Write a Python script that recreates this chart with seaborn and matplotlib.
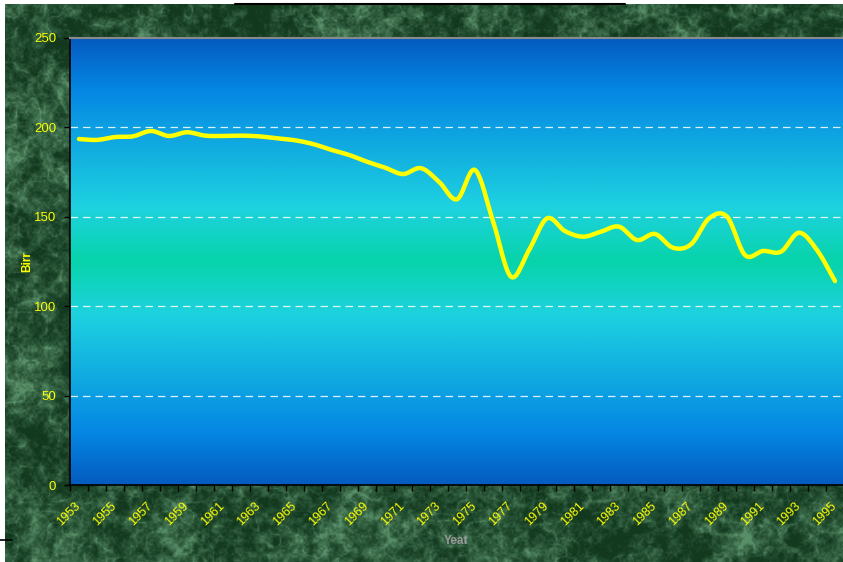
import numpy as np
import pandas as pd
import matplotlib
matplotlib.use("Agg")
import matplotlib.pyplot as plt
import matplotlib.transforms as mtransforms
from matplotlib.colors import LinearSegmentedColormap
import seaborn as sns

# Annual values in Birr, 1953-1995
years = list(range(1953, 1996))
birr = [193.5, 193.0, 194.6, 195.0, 198.0, 195.2, 197.3, 195.4, 195.2, 195.4,
        195.0, 193.9, 192.8, 190.7, 187.5, 184.6, 180.8, 177.5, 173.9, 177.2,
        169.6, 159.8, 176.2, 147.6, 116.5, 131.4, 149.1, 142.0, 138.9, 141.7,
        144.5, 137.0, 140.4, 132.7, 134.6, 149.1, 150.1, 128.6, 130.9, 130.5,
        141.1, 131.4, 114.1]
year_labels = [str(y) if (y - 1953) % 2 == 0 else "" for y in years]
y_ticks = [0, 50, 100, 150, 200, 250]

sns.set_style("ticks")
plt.rcParams["font.family"] = ["Liberation Sans", "DejaVu Sans"]

W, H = 843, 562
fig = plt.figure(figsize=(W / 100, H / 100), dpi=100)

yy, xx = np.mgrid[0:H, 0:W].astype(float)


def lattice_noise(cell, shift):
    """Smooth value noise from a hashed lattice, bilinearly blended."""
    fx, fy = xx / cell, yy / cell
    x0, y0 = np.floor(fx), np.floor(fy)
    tx, ty = fx - x0, fy - y0
    tx = tx * tx * (3 - 2 * tx)
    ty = ty * ty * (3 - 2 * ty)

    def h(i, j):
        v = np.sin(i * 12.9898 + j * 78.233 + shift) * 43758.5453
        return v - np.floor(v)

    a, b = h(x0, y0), h(x0 + 1, y0)
    c, d = h(x0, y0 + 1), h(x0 + 1, y0 + 1)
    return (a * (1 - tx) + b * tx) * (1 - ty) + (c * (1 - tx) + d * tx) * ty


# Green marble backdrop: fine mottled grain with faint pale veins
mottle = (0.30 * lattice_noise(36, 1.3) + 0.28 * lattice_noise(12, 7.1)
          + 0.24 * lattice_noise(5, 3.7) + 0.18 * lattice_noise(2, 5.9))
ridge = 1 - np.abs(2 * (0.5 * lattice_noise(30, 9.4)
                        + 0.5 * lattice_noise(11, 2.2)) - 1)
veins = ridge ** 10
shade = np.clip((mottle - 0.3) / 0.4 * 0.75 + 0.3 * veins, 0, 1)
dark = np.array([18, 56, 30]) / 255
light = np.array([88, 142, 104]) / 255
img = dark + (light - dark) * (shade[..., None] ** 1.45)
img[:4, :, :] = 1.0
img[:, :5, :] = 1.0

bg_ax = fig.add_axes([0, 0, 1, 1], zorder=-10)
bg_ax.imshow(img, extent=[0, W, H, 0], aspect="auto", interpolation="bilinear")
bg_ax.plot([235, 625], [3.5, 3.5], color="black", lw=1.5)
bg_ax.plot([0, 12], [540, 540], color="black", lw=1.2)
bg_ax.set_xlim(0, W)
bg_ax.set_ylim(H, 0)
bg_ax.axis("off")

# Plot area
ax = fig.add_axes([70 / W, 77 / H, 774 / W, 447 / H])
ax.set_xlim(-0.5, len(years) - 0.5)
ax.set_ylim(0, 250)

grad_cmap = LinearSegmentedColormap.from_list(
    "plotbg",
    [(0.00, "#045bbf"), (0.12, "#0588e4"), (0.26, "#12b0e0"),
     (0.38, "#1ed2e0"), (0.50, "#07d4aa"),
     (0.62, "#1ed2e0"), (0.74, "#12b0e0"), (0.88, "#0588e4"), (1.00, "#045bbf")])
grad = np.linspace(0, 1, 256)[:, None]
ax.imshow(grad, extent=[-0.5, len(years) - 0.5, 0, 250], aspect="auto",
          cmap=grad_cmap, zorder=0, interpolation="bilinear")

for gy in y_ticks[1:-1]:
    ax.axhline(gy, color="white", lw=0.9, ls=(0, (6, 4)), alpha=0.85, zorder=1)


def smooth_path(x, y, steps=20):
    """Catmull-Rom curve passing through every data point."""
    x = np.asarray(x, float)
    y = np.asarray(y, float)
    px = np.concatenate([[2 * x[0] - x[1]], x, [2 * x[-1] - x[-2]]])
    py = np.concatenate([[2 * y[0] - y[1]], y, [2 * y[-1] - y[-2]]])
    out_x, out_y = [], []
    t = np.linspace(0, 1, steps, endpoint=False)
    for i in range(1, len(px) - 2):
        for arr, out in ((px, out_x), (py, out_y)):
            p0, p1, p2, p3 = arr[i - 1], arr[i], arr[i + 1], arr[i + 2]
            out.extend(0.5 * ((2 * p1) + (-p0 + p2) * t
                              + (2 * p0 - 5 * p1 + 4 * p2 - p3) * t ** 2
                              + (-p0 + 3 * p1 - 3 * p2 + p3) * t ** 3))
    out_x.append(x[-1])
    out_y.append(y[-1])
    return np.array(out_x), np.array(out_y)


pos = np.arange(len(years))
sx, sy = smooth_path(pos, birr)
curve = pd.DataFrame({"pos": sx, "Birr": sy})
sns.lineplot(data=curve, x="pos", y="Birr", sort=False, color="#ffff00",
             lw=3.2, ax=ax, zorder=3, solid_capstyle="round")

# Axes styling
for side in ("left", "bottom"):
    ax.spines[side].set_color("black")
    ax.spines[side].set_linewidth(1.2)
ax.spines["top"].set_color("#8a8a8a")
ax.spines["top"].set_linewidth(1.5)
ax.spines["right"].set_visible(False)

ax.set_yticks(y_ticks)
ax.set_yticklabels([str(v) for v in y_ticks])
ax.tick_params(axis="y", colors="black", labelcolor="#ffff00", labelsize=9.5,
               length=4, width=1, pad=6, direction="out")

ax.set_xticks(np.arange(-0.5, len(years) + 0.5, 1.0))
ax.set_xticklabels([])
ax.tick_params(axis="x", which="major", colors="black", length=4, width=1)
ax.set_xticks(pos, minor=True)
ax.set_xticklabels(year_labels, minor=True, rotation=45, ha="right",
                   va="top", rotation_mode="anchor")
ax.tick_params(axis="x", which="minor", length=0, pad=11,
               labelcolor="#ffff00", labelsize=9)
shift = mtransforms.ScaledTranslation(-5 / 100, 0, fig.dpi_scale_trans)
for lab in ax.get_xticklabels(minor=True):
    lab.set_transform(lab.get_transform() + shift)
ax.set_xlabel("")
ax.set_ylabel("")

fig.text(27 / W, 1 - 262 / H, "Birr", color="#ffff00", fontsize=8.5,
         fontweight="bold", rotation=90, ha="center", va="center")
fig.text(456 / W, 1 - 541 / H, "Yeat", color="#9a9a9a", fontsize=8.5,
         fontweight="bold", ha="center", va="center")

fig.savefig("out.png", dpi=100)
